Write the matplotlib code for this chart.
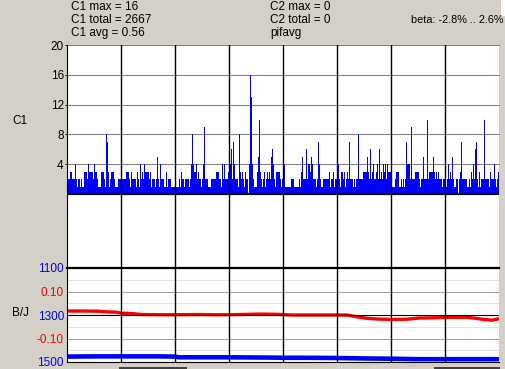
import matplotlib.pyplot as plt
from matplotlib.patches import Rectangle
import numpy as np

# conteos de C1, una lista por division vertical (54 muestras cada una)
c1_div0 = [2,2,2,3,3,2,2,2,4,2,1,2,2,1,2,1,1,3,3,3,2,4,3,3,3,3,2,4,3,3,2,1,1,1,3,3,3,2,1,8,7,3,1,2,3,3,3,2,1,1,1,2,2,2]
c1_div1 = [2,2,2,2,2,3,3,3,2,1,3,2,2,2,2,1,3,2,1,4,2,3,2,4,3,3,3,3,2,3,1,2,2,2,1,2,5,2,1,4,2,2,2,1,1,3,1,2,2,2,1,1,1,1]
c1_div2 = [1,1,1,1,2,1,3,2,2,1,2,2,2,2,1,2,4,8,4,3,3,4,2,3,2,2,1,2,4,9,2,2,2,1,1,1,2,2,2,2,2,3,3,3,2,2,1,4,2,4,2,2,2,3]
c1_div3 = [2,4,6,2,7,4,2,2,2,1,8,3,2,3,2,1,3,2,2,0,4,16,13,4,2,1,1,1,3,5,10,3,2,1,2,3,1,2,3,2,3,2,5,6,4,2,1,3,3,3,3,2,1,2]
c1_div4 = [2,4,1,1,1,1,1,1,2,2,2,1,1,1,1,1,2,1,3,5,2,2,2,6,2,4,4,3,5,4,2,2,2,1,2,7,4,2,1,1,2,2,2,2,2,2,3,1,2,2,3,1,2,2]
c1_div5 = [4,4,2,1,3,3,2,3,1,2,3,2,7,2,2,2,1,2,1,2,2,8,2,2,2,2,3,3,3,3,5,3,2,6,2,3,4,2,2,3,4,2,6,2,3,2,4,3,4,2,4,3,3,3]
c1_div6 = [1,1,1,1,2,3,3,3,1,1,2,1,2,1,2,7,4,4,4,2,9,2,2,2,3,3,3,3,2,1,2,2,5,2,2,2,10,2,3,3,3,3,5,3,2,3,2,3,2,2,2,1,2,2]
c1_div7 = [2,1,2,4,2,3,2,5,2,1,1,2,2,0,2,3,7,2,2,2,2,2,1,1,2,1,3,2,4,2,6,7,2,1,3,1,2,2,2,10,2,2,2,2,1,3,2,2,2,4,2,1,2,3]

# beta (rojo) y B/J (azul)
red_x = [0, 15, 32, 40, 49, 55, 65, 75, 100, 130, 150, 175, 192, 210, 225, 280, 285, 292, 300, 310, 325, 340, 352, 365, 380, 400, 407, 415, 425, 432]
red_v = [0.017, 0.017, 0.016, 0.013, 0.012, 0.008, 0.006, 0.002, 0.001, 0.002, 0.001, 0.002, 0.004, 0.003, 0.000, 0.000, -0.004, -0.009, -0.014, -0.017, -0.019, -0.018, -0.013, -0.012, -0.010, -0.010, -0.013, -0.018, -0.022, -0.016]
blue_x = [0, 30, 60, 90, 108, 112, 140, 160, 200, 216, 240, 270, 300, 324, 350, 378, 400, 432]
blue_v = [1477, 1476, 1476, 1476, 1477, 1480, 1480, 1480, 1481, 1482, 1482, 1483, 1485, 1486, 1488, 1488, 1488, 1488]

c1_ticks = [4, 8, 12, 16, 20]
bj_ticks = [1100, 1300, 1500]
beta_ticks = [0.10, -0.10]
beta_labels = ['0.10', '-0.10']

header_left = ['C1 max = 16', 'C1 total = 2667', 'C1 avg = 0.56']
header_mid = ['C2 max = 0', 'C2 total = 0', 'pifavg']
beta_text = 'beta: -2.8% .. 2.6%'

c1 = np.array(c1_div0 + c1_div1 + c1_div2 + c1_div3 + c1_div4 + c1_div5 + c1_div6 + c1_div7)
x_c1 = np.arange(len(c1))

W, H = 506, 369
fondo = '#D4D0C8'
azul = '#0000FF'
rojo = '#FF0000'

plt.rcParams['font.family'] = ['Liberation Sans', 'DejaVu Sans']
plt.rcParams['font.size'] = 8.5

fig = plt.figure(figsize=(W / 100, H / 100), dpi=100, facecolor=fondo)


def caja(x0, y0, x1, y1):  # pixeles (y hacia abajo) -> fraccion de figura
    return [x0 / W, 1 - y1 / H, (x1 - x0) / W, (y1 - y0) / H]


ax1 = fig.add_axes(caja(67, 45, 499, 268))
ax2 = fig.add_axes(caja(67, 268, 499, 362))
ax3 = ax2.twinx()

divs = [54 * k + 0.5 for k in range(1, 8)]

# panel de arriba: C1
ax1.set_xlim(0, 432)
ax1.set_ylim(-9.93, 20)
ax1.bar(x_c1, c1, width=1, align='edge', color=azul, linewidth=0, antialiased=False, zorder=2)
for v in c1_ticks:
    ax1.axhline(v, color='#808080', lw=0.75, zorder=1, clip_on=False)
ax1.axhline(0, color='black', lw=1.6, zorder=3)
for xv in divs:
    ax1.axvline(xv, color='black', lw=1.0, zorder=4)
ax1.set_xticks([])
ax1.set_yticks(c1_ticks)
ax1.tick_params(axis='y', length=1.5, width=0.7, pad=0.8, labelsize=8.5)
for s in ['top', 'right', 'bottom']:
    ax1.spines[s].set_visible(False)
ax1.spines['left'].set_linewidth(0.8)

# panel de abajo: beta atras, B/J adelante
ax3.set_zorder(1)
ax2.set_zorder(2)
ax2.patch.set_visible(False)
ax3.patch.set_visible(True)
ax3.patch.set_facecolor('white')

ax3.set_xlim(0, 432)
ax3.set_ylim(-0.2, 0.2)
ax3.plot(red_x, red_v, color=rojo, lw=2.4, solid_capstyle='butt')
ax3.yaxis.set_ticks_position('left')
ax3.set_yticks(beta_ticks)
ax3.set_yticklabels(beta_labels)
ax3.tick_params(axis='y', length=0, pad=2.2, labelcolor=rojo, labelsize=8.5)
for s in ax3.spines.values():
    s.set_visible(False)

ax2.set_xlim(0, 432)
ax2.set_ylim(1500, 1100)
ax2.plot(blue_x, blue_v, color=azul, lw=3.3, solid_capstyle='butt', zorder=2, clip_on=False)
for v in [1150, 1250, 1350, 1450]:
    ax2.axhline(v, color='#E3E3E3', lw=0.75, zorder=1)
for v in [1200, 1400]:
    ax2.axhline(v, color='#A0A0A0', lw=0.75, zorder=1)
ax2.axhline(1300, color='black', lw=0.8, zorder=3)
ax2.axhline(1100, color='black', lw=1.6, zorder=3, clip_on=False)
for xv in divs:
    ax2.axvline(xv, color='black', lw=1.0, zorder=4)
ax2.set_xticks([])
ax2.set_yticks(bj_ticks)
ax2.tick_params(axis='y', length=0, pad=2.2, labelcolor=azul, labelsize=8.5)
ax2.spines['top'].set_visible(False)
ax2.spines['right'].set_visible(False)
ax2.spines['left'].set_linewidth(0.8)
ax2.spines['bottom'].set_linewidth(0.8)

# etiquetas de eje
fig.text(12 / W, 1 - 121 / H, 'C1', va='center', ha='left', fontsize=8.5)
fig.text(12 / W, 1 - 313 / H, 'B/J', va='center', ha='left', fontsize=8.5)

# encabezado
for k, t in enumerate(header_left):
    fig.text(71 / W, 1 - (10 + 13 * k) / H, t, va='baseline', ha='left', fontsize=8.5)
for k, t in enumerate(header_mid):
    fig.text(270 / W, 1 - (10 + 13 * k) / H, t, va='baseline', ha='left', fontsize=8.5)
fig.text(504 / W, 1 - 23 / H, beta_text, va='baseline', ha='right', fontsize=7.8)

# detalles de la ventana
fig.patches.append(Rectangle((501 / W, 1 - 16 / H), 5 / W, 16 / H, transform=fig.transFigure,
                             facecolor='white', edgecolor='none', zorder=-1))
for x0, x1 in [(119, 187), (434, 500)]:
    fig.patches.append(Rectangle((x0 / W, 0), (x1 - x0) / W, 2 / H, transform=fig.transFigure,
                                 facecolor='#404040', edgecolor='none'))

fig.savefig('out.png', dpi=100, facecolor=fondo)
